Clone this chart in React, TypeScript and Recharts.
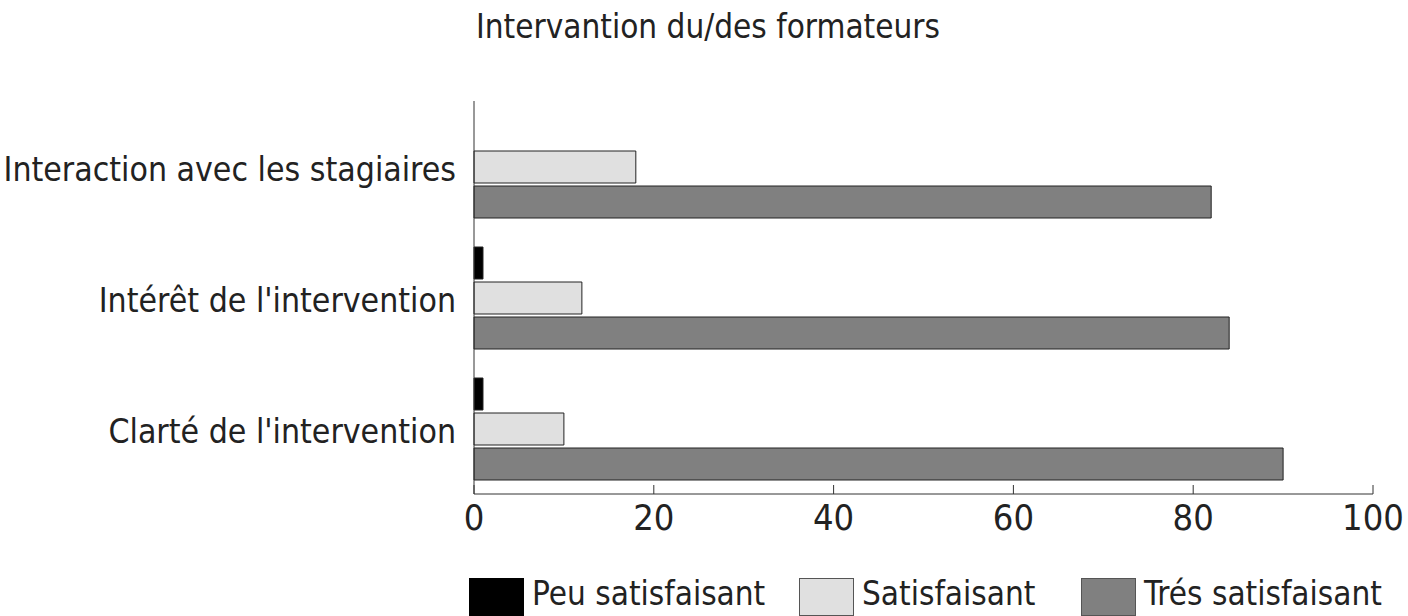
import { Bar, BarChart, Legend, XAxis, YAxis } from 'recharts';

const categories = ['Interaction avec les stagiaires', "Intérêt de l'intervention", "Clarté de l'intervention"];
const peuSatisfaisant = [0, 1, 1];
const satisfaisant = [18, 12, 10];
const tresSatisfaisant = [82, 84, 90];
const xTicks = [0, 20, 40, 60, 80, 100];

const series = [
  { key: 'peu', label: 'Peu satisfaisant', color: '#000000' },
  { key: 'sat', label: 'Satisfaisant', color: '#e0e0e0' },
  { key: 'tres', label: 'Trés satisfaisant', color: '#808080' },
];

const data = categories.map((name, i) => ({
  name,
  peu: peuSatisfaisant[i],
  sat: satisfaisant[i],
  tres: tresSatisfaisant[i],
}));

const FONT = "'DejaVu Sans Condensed', 'Liberation Sans Narrow', Roboto, sans-serif";
const TEXT = '#222222';

function XTick({ x, y, payload }: any) {
  return (
    <g>
      <line x1={x} x2={x} y1={y - 9} y2={y} stroke="#333" strokeWidth={1} />
      <text x={x} y={y + 36} textAnchor="middle" fontSize={36} fontFamily={FONT} fill={TEXT}>{payload.value}</text>
    </g>
  );
}

function YTick({ x, y, payload }: any) {
  return (
    <text x={x} y={y} dy={14} textAnchor="end" fontSize={33.5} fontFamily={FONT} fill={TEXT}>{payload.value}</text>
  );
}

function LegendContent() {
  const positions = [469, 799, 1081];
  return (
    <div style={{ position: 'relative', height: 40, fontFamily: FONT, fontSize: 33, color: TEXT }}>
      {series.map((s, i) => (
        <div key={s.key} style={{ position: 'absolute', left: positions[i], top: 2, display: 'flex', alignItems: 'flex-start', whiteSpace: 'nowrap' }}>
          <span style={{ display: 'inline-block', width: 55, height: 38, background: s.color, border: s.key === 'peu' ? 'none' : '1px solid #555', boxSizing: 'border-box', marginRight: 8 }} />
          <span style={{ lineHeight: '36px', position: 'relative', top: -2 }}>{s.label}</span>
        </div>
      ))}
    </div>
  );
}

export default function App() {
  return (
    <div style={{ position: 'absolute', left: 0, top: 0, width: 1408, height: 616, background: '#fff', overflow: 'hidden' }}>
      <div style={{ position: 'absolute', left: 0, top: 7, width: 1416, textAlign: 'center', fontFamily: FONT, fontSize: 33, lineHeight: '40px', color: TEXT }}>
        Intervantion du/des formateurs
      </div>
      <BarChart
        width={1408}
        height={616}
        data={data}
        layout="vertical"
        margin={{ top: 101, right: 35, left: 0, bottom: 0 }}
        barSize={32}
        barGap={3}
      >
        <XAxis
          type="number"
          domain={[0, 100]}
          ticks={xTicks}
          height={82}
          tickLine={false}
          tickSize={0}
          tickMargin={0}
          axisLine={{ stroke: '#333', strokeWidth: 1 }}
          tick={<XTick />}
          interval={0}
        />
        <YAxis
          type="category"
          dataKey="name"
          width={474}
          tickLine={false}
          tickSize={0}
          tickMargin={18}
          axisLine={{ stroke: '#333', strokeWidth: 1 }}
          tick={<YTick />}
          interval={0}
        />
        <Legend verticalAlign="bottom" height={40} content={<LegendContent />} wrapperStyle={{ left: 0, width: 1408 }} />
        {series.map(s => (
          <Bar key={s.key} dataKey={s.key} name={s.label} fill={s.color} stroke="#222" strokeWidth={1} isAnimationActive={false} />
        ))}
      </BarChart>
    </div>
  );
}
